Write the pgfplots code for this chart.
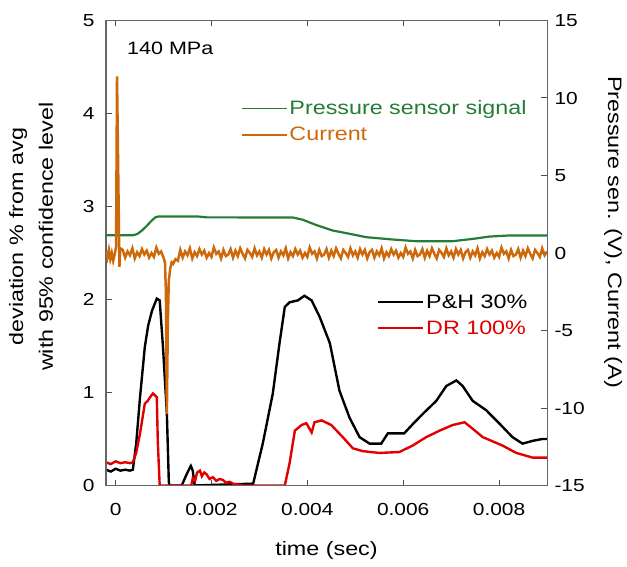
\documentclass[border=0pt]{standalone}
\usepackage{pgfplots}
\pgfplotsset{compat=1.18}
\usepackage{fontspec}
\setmainfont{Liberation Sans}[FakeStretch=1.2]
\definecolor{pgreen}{RGB}{35,125,55}
\definecolor{porange}{RGB}{205,105,10}
\definecolor{dred}{RGB}{225,0,0}
\begin{document}
\begin{tikzpicture}
\pgfplotsset{
 common/.style={width=441bp,height=465bp,scale only axis,xmin=-0.0002,xmax=0.009,
  tick align=inside, major tick length=6bp, /pgf/number format/assume math mode=true,
  scaled x ticks=false,
  tick label style={font=\fontsize{17.5}{20}\selectfont},
  label style={font=\fontsize{19.5}{30}\selectfont},
  axis line style={draw=black!60, line width=1pt},
  every tick/.style={black!70, line width=1pt},
  legend style={draw=none,fill=none,font=\fontsize{19.5}{22}\selectfont, row sep=7bp,
    inner sep=0pt, /tikz/every even column/.append style={column sep=0bp}},
  legend image code/.code={\draw[#1, line width=1.8pt] (0bp,0bp) -- (45bp,0bp);},
  legend cell align=left,
 }
}
\begin{axis}[common, name=ax, ymin=0, ymax=5, ytick={0,1,2,3,4,5}, ytick pos=left,
  xtick={0,0.002,0.004,0.006,0.008}, xticklabels={0,0.002,0.004,0.006,0.008},
  xticklabel style={yshift=-14bp}, yticklabel style={xshift=-8bp},
  xlabel={time (sec)}, xlabel style={at={(axis description cs:0.5,-0.14)}, anchor=center},
  ylabel={deviation \% from avg\\with 95\% confidence level},
  ylabel style={align=center, at={(axis description cs:-0.17,0.535)}, anchor=center},
  legend style={at={(0.615,0.415)}, anchor=north west}]
\addplot[black, line width=2.4pt] coordinates {
(-0.0002,0.17) (-0.0001,0.15) (0,0.18) (0.0001,0.16) (0.0002,0.17) (0.0003,0.16) (0.00036,0.17)
(0.00043,0.45) (0.00051,0.95) (0.00061,1.49) (0.00068,1.72) (0.00076,1.88) (0.00086,2.01) (0.00092,1.99)
(0.00099,1.48) (0.00107,0.77) (0.00111,0.05) (0.00112,0) (0.00138,0) (0.00149,0.13) (0.00157,0.21)
(0.00161,0.16) (0.00165,0) (0.00287,0.02) (0.00307,0.45) (0.00328,0.99) (0.00342,1.53) (0.00353,1.92)
(0.00363,1.97) (0.0038,1.99) (0.00394,2.04) (0.00409,1.99) (0.00426,1.81) (0.00447,1.53) (0.00467,1.02)
(0.00488,0.73) (0.00509,0.52) (0.0053,0.45) (0.00554,0.45) (0.00568,0.56) (0.00586,0.56) (0.00602,0.56)
(0.0062,0.66) (0.00641,0.77) (0.00669,0.91) (0.0069,1.07) (0.00711,1.13) (0.00724,1.07) (0.00745,0.91)
(0.00773,0.81) (0.008,0.67) (0.00828,0.52) (0.00849,0.45) (0.0087,0.48) (0.0089,0.5) (0.009,0.5)};
\addlegendentry{\textcolor{black}{P\&H 30\%}}
\addplot[dred, line width=2.4pt] coordinates {
(-0.0002,0.25) (-0.0001,0.23) (0,0.26) (0.0001,0.24) (0.0002,0.25) (0.0003,0.24) (0.00036,0.25)
(0.00043,0.35) (0.00051,0.56) (0.00061,0.88) (0.00067,0.91) (0.00072,0.95) (0.00078,0.99) (0.00086,0.95)
(0.00088,0.48) (0.00092,0) (0.00158,0) (0.00161,0.08) (0.00166,0.05) (0.0017,0.14) (0.00176,0.16)
(0.0018,0.1) (0.00185,0.14) (0.0019,0.12) (0.00196,0.07) (0.00203,0.09) (0.0021,0.05) (0.00217,0.07)
(0.00224,0.06) (0.0023,0.03) (0.00238,0.04) (0.00245,0.02) (0.00265,0) (0.00353,0) (0.00363,0.24)
(0.00374,0.59) (0.00388,0.65) (0.00398,0.67) (0.00409,0.57) (0.00415,0.68) (0.0043,0.70) (0.0045,0.65)
(0.00474,0.52) (0.00495,0.40) (0.00515,0.37) (0.0055,0.35) (0.00592,0.36) (0.0062,0.43) (0.00648,0.52)
(0.00676,0.59) (0.00703,0.65) (0.00728,0.68) (0.00745,0.61) (0.00766,0.52) (0.00807,0.43) (0.00836,0.35)
(0.0087,0.30) (0.009,0.30)};
\addlegendentry{\textcolor{dred}{DR 100\%}}
\node[anchor=west, font=\fontsize{18}{20}\selectfont] at (rel axis cs:0.04,0.94) {140 MPa};
\end{axis}
\begin{axis}[common, ymin=-15, ymax=15, ytick={-15,-10,-5,0,5,10,15}, ytick pos=right, yticklabel pos=right,
  xtick=\empty, yticklabel style={xshift=4bp},
  ylabel={Pressure sen. (V), Current (A)},
  ylabel style={at={(axis description cs:1.15,0.545)}, anchor=center, rotate=180},
  legend style={at={(0.305,0.832)}, anchor=north west}]
\addplot[pgreen, line width=2.2pt] coordinates {
(-0.0002,1.14) (0.00036,1.14) (0.00045,1.22) (0.00055,1.45) (0.00065,1.75) (0.00075,2.08) (0.00083,2.30)
(0.0009,2.36) (0.0017,2.36) (0.0019,2.30) (0.0037,2.29) (0.0039,2.15) (0.00419,1.8) (0.00453,1.45)
(0.00488,1.24) (0.00523,1.02) (0.00578,0.87) (0.00627,0.76) (0.00703,0.76) (0.00745,0.91) (0.0078,1.06)
(0.0082,1.13) (0.009,1.13)};
\addlegendentry{\textcolor{pgreen}{Pressure sensor signal}}
\addplot[porange, line width=2.5pt] table {
-0.0002 0.1
-0.00017 -0.3
-0.00014 0.2
-0.00011 -0.4
-0.00008 0.0
-0.00005 -0.5
-0.00002 -0.1
0.00001 0.4
0.00003 11.4
0.00006 4.0
0.00008 -0.9
0.0001 0.3
0.00015 0.2
0.0002 -0.3
0.00025 0.1
0.0003 -0.15
0.00035 0.3
0.0004 -0.35
0.00045 0.05
0.0005 -0.2
0.00055 0.25
0.0006 -0.1
0.00065 0.15
0.0007 -0.3
0.00075 0.0
0.0008 -0.25
0.00085 0.35
0.0009 -0.05
0.00095 0.1
0.001 -0.3
0.00103 -0.6
0.00105 -2.5
0.00107 -10.4
0.00109 -4.5
0.00111 -1.8
0.00114 -1.0
0.00117 -0.6
0.0012 -0.7
0.00125 -0.4
0.0013 -0.5
0.00135 0.2
0.0014 -0.3
0.00145 0.1
0.0015 -0.15
0.00155 0.3
0.0016 -0.35
0.00165 0.05
0.0017 -0.2
0.00175 0.25
0.0018 -0.1
0.00185 0.15
0.0019 -0.3
0.00195 0.0
0.002 -0.25
0.00205 0.35
0.0021 -0.05
0.00215 0.1
0.0022 -0.35
0.00225 0.2
0.0023 -0.2
0.00235 -0.1
0.0024 0.25
0.00245 -0.3
0.0025 0.15
0.00255 -0.2
0.0026 0.3
0.00265 -0.05
0.0027 -0.35
0.00275 0.2
0.0028 0.0
0.00285 -0.25
0.0029 0.3
0.00295 -0.15
0.003 0.1
0.00305 -0.3
0.0031 0.25
0.00315 -0.1
0.0032 0.2
0.00325 -0.35
0.0033 0.05
0.00335 0.2
0.0034 -0.3
0.00345 0.1
0.0035 -0.15
0.00355 0.3
0.0036 -0.35
0.00365 0.05
0.0037 -0.2
0.00375 0.25
0.0038 -0.1
0.00385 0.15
0.0039 -0.3
0.00395 0.0
0.004 -0.25
0.00405 0.35
0.0041 -0.05
0.00415 0.1
0.0042 -0.35
0.00425 0.2
0.0043 -0.2
0.00435 -0.1
0.0044 0.25
0.00445 -0.3
0.0045 0.15
0.00455 -0.2
0.0046 0.3
0.00465 -0.05
0.0047 -0.35
0.00475 0.2
0.0048 0.0
0.00485 -0.25
0.0049 0.3
0.00495 -0.15
0.005 0.1
0.00505 -0.3
0.0051 0.25
0.00515 -0.1
0.0052 0.2
0.00525 -0.35
0.0053 0.05
0.00535 0.2
0.0054 -0.3
0.00545 0.1
0.0055 -0.15
0.00555 0.3
0.0056 -0.35
0.00565 0.05
0.0057 -0.2
0.00575 0.25
0.0058 -0.1
0.00585 0.15
0.0059 -0.3
0.00595 0.0
0.006 -0.25
0.00605 0.35
0.0061 -0.05
0.00615 0.1
0.0062 -0.35
0.00625 0.2
0.0063 -0.2
0.00635 -0.1
0.0064 0.25
0.00645 -0.3
0.0065 0.15
0.00655 -0.2
0.0066 0.3
0.00665 -0.05
0.0067 -0.35
0.00675 0.2
0.0068 0.0
0.00685 -0.25
0.0069 0.3
0.00695 -0.15
0.007 0.1
0.00705 -0.3
0.0071 0.25
0.00715 -0.1
0.0072 0.2
0.00725 -0.35
0.0073 0.05
0.00735 0.2
0.0074 -0.3
0.00745 0.1
0.0075 -0.15
0.00755 0.3
0.0076 -0.35
0.00765 0.05
0.0077 -0.2
0.00775 0.25
0.0078 -0.1
0.00785 0.15
0.0079 -0.3
0.00795 0.0
0.008 -0.25
0.00805 0.35
0.0081 -0.05
0.00815 0.1
0.0082 -0.35
0.00825 0.2
0.0083 -0.2
0.00835 -0.1
0.0084 0.25
0.00845 -0.3
0.0085 0.15
0.00855 -0.2
0.0086 0.3
0.00865 -0.05
0.0087 -0.35
0.00875 0.2
0.0088 0.0
0.00885 -0.25
0.0089 0.3
0.00895 -0.15
0.009 0.1
};
\addlegendentry{\textcolor{porange}{Current}}
\end{axis}
\pgfresetboundingbox
\path[use as bounding box] ([shift={(-106bp,-81bp)}]ax.south west) rectangle ([shift={(80bp,20.5bp)}]ax.north east);
\end{tikzpicture}
\end{document}
